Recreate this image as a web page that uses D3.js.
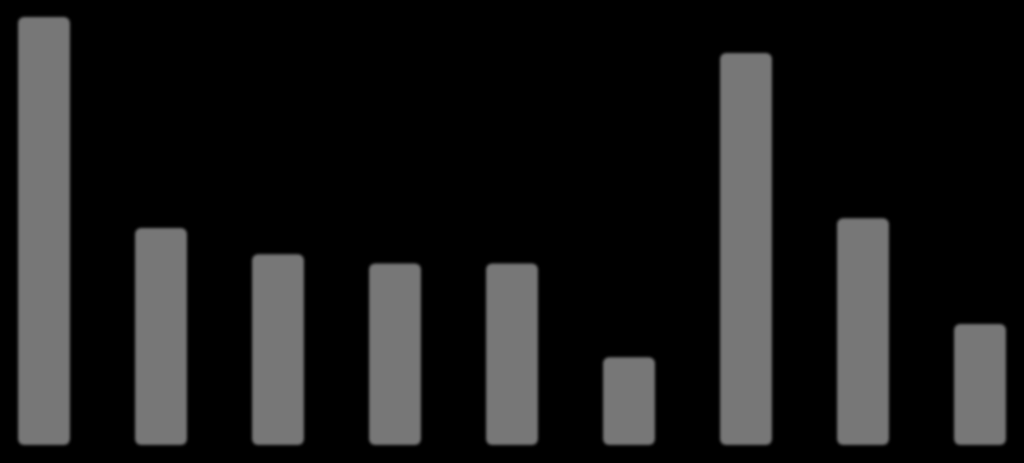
<!DOCTYPE html>
<html><head><meta charset="utf-8">
<script src="https://cdn.jsdelivr.net/npm/d3@7/dist/d3.min.js"></script>
<style>html,body{margin:0;padding:0;background:#000;overflow:hidden}</style>
</head><body>
<script>
const categories = ["A","B","C","D","E","F","G","H","I"];
const values = [100, 50.7, 44.6, 42.4, 42.4, 20.5, 91.6, 53.0, 28.3];

const W = 1024, H = 463;
const svg = d3.select("body").append("svg").attr("width", W).attr("height", H);
svg.append("rect").attr("width", W).attr("height", H).attr("fill", "#000");
const defs = svg.append("defs");
defs.append("filter").attr("id","blur").attr("x","-10%").attr("y","-10%").attr("width","120%").attr("height","120%")
  .append("feGaussianBlur").attr("stdDeviation", 1.6);

const x = d3.scaleBand().domain(categories).range([0, W]).paddingInner(0.556).paddingOuter(0.154);
const y = d3.scaleLinear().domain([0, 104]).range([445, 0]);

svg.append("g").attr("filter","url(#blur)")
  .selectAll("rect").data(values).join("rect")
  .attr("x", (d,i) => x(categories[i]))
  .attr("width", x.bandwidth())
  .attr("y", d => y(d))
  .attr("height", d => y(0) - y(d))
  .attr("rx", 6).attr("ry", 6)
  .attr("fill", "#777777");
</script>
</body></html>
